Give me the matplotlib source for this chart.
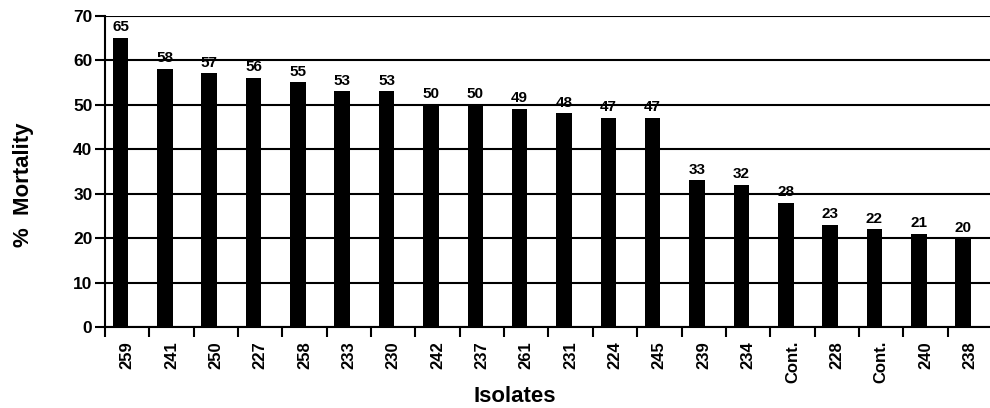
import matplotlib
matplotlib.use("Agg")
import matplotlib.pyplot as plt
import numpy as np

# data
isolates = ['259', '241', '250', '227', '258', '233', '230', '242', '237', '261',
            '231', '224', '245', '239', '234', 'Cont.', '228', 'Cont.', '240', '238']
mortality = [65, 58, 57, 56, 55, 53, 53, 50, 50, 49,
             48, 47, 47, 33, 32, 28, 23, 22, 21, 20]

plt.rcParams['font.family'] = ['Liberation Sans', 'DejaVu Sans']
plt.rcParams['font.weight'] = 'bold'

fig = plt.figure(figsize=(9.9, 4.08), dpi=100)
ax = fig.add_axes([0.106, 0.198, 0.896, 0.764])

x = np.arange(len(isolates))
ax.set_axisbelow(True)
ax.yaxis.grid(True, color='black', linewidth=1.5)
bars = ax.bar(x - 0.15, mortality, width=0.35, color='black', zorder=3)

for xi, v in zip(x, mortality):
    ax.text(xi - 0.15, v + 0.8, str(v), ha='center', va='bottom',
            fontsize=11, fontweight='bold', zorder=4)

ax.set_xlim(-0.5, len(isolates) - 0.5)
ax.set_ylim(0, 70)
ax.set_yticks(range(0, 71, 10))
ax.set_xticks(x)
ax.set_xticklabels(isolates, rotation=90, fontsize=12, fontweight='bold')
ax.set_xticks(np.arange(-0.5, len(isolates), 1), minor=True)
ax.tick_params(axis='x', which='major', length=0, pad=10)
ax.tick_params(axis='x', which='minor', length=7, width=1.5, direction='out')
ax.tick_params(axis='y', length=7, width=1.5, labelsize=12.5, pad=2)
for lab in ax.get_yticklabels():
    lab.set_fontweight('bold')

for s in ['top', 'right']:
    ax.spines[s].set_visible(False)
ax.spines['left'].set_linewidth(1.5)
ax.spines['bottom'].set_linewidth(1.5)

# axis titles placed in figure coordinates
fig.text(0.024, 0.547, '%  Mortality', rotation=90, ha='center', va='center',
         fontsize=16, fontweight='bold')
fig.text(0.52, 0.027, 'Isolates', ha='center', va='center',
         fontsize=16, fontweight='bold')

plt.savefig('out.png', dpi=100)
